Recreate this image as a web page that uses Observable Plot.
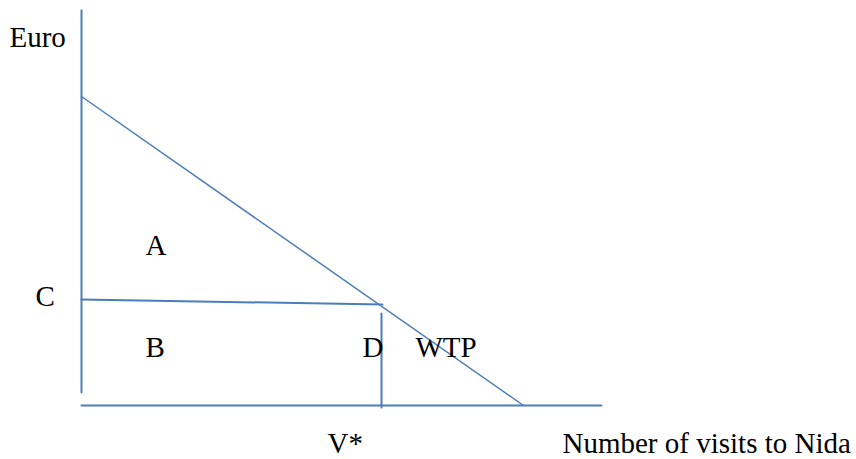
<!DOCTYPE html>
<html>
<head>
<meta charset="utf-8">
<script src="https://cdn.jsdelivr.net/npm/d3@7"></script>
<script src="https://cdn.jsdelivr.net/npm/@observablehq/plot@0.6"></script>
<style>
  html, body { margin: 0; padding: 0; background: #fff; }
</style>
</head>
<body>
<div id="chart"></div>
<script>
// Schematic units: quantity (visits) along x, price (Euro) along y; origin at the axes' corner.
const demandQ = [0, 442];          // demand / WTP line: quantity
const demandP = [309, 0];          // demand / WTP line: price
const costQ = [0, 301];            // cost line C: quantity
const costP = [106, 101];          // cost line C: price
const vStar = 300;                 // V*
const vLineP = [92, -2];           // vertical line at V*: price extent
const yAxisP = [395, 13];          // vertical axis extent
const xAxisQ = [0, 520];           // horizontal axis extent

const labelText = ["Euro", "A", "C", "B", "D", "WTP", "V*", "Number of visits to Nida"];
const labelQ    = [-72, 64, -46, 64, 281, 334, 246, 481];
const labelP    = [359, 151, 99.5, 48.5, 49, 49, -47.5, -47.5];

const blue = "#4a7ebb";
const pts = (qs, ps) => qs.map((q, i) => ({q, p: ps[i]}));
const labels = labelText.map((t, i) => ({t, q: labelQ[i], p: labelP[i]}));

const chart = Plot.plot({
  width: 856,
  height: 459,
  margin: 0,
  x: {domain: [-81, 775], range: [0, 856], axis: null},
  y: {domain: [-54, 405], range: [459, 0], axis: null},
  style: {background: "#fff"},
  marks: [
    Plot.line(pts([0, 0], yAxisP), {x: "q", y: "p", stroke: blue, strokeWidth: 2}),
    Plot.line(pts(xAxisQ, [0, 0]), {x: "q", y: "p", stroke: blue, strokeWidth: 2}),
    Plot.line(pts(demandQ, demandP), {x: "q", y: "p", stroke: blue, strokeWidth: 1.5}),
    Plot.line(pts(costQ, costP), {x: "q", y: "p", stroke: blue, strokeWidth: 2}),
    Plot.line(pts([vStar, vStar], vLineP), {x: "q", y: "p", stroke: blue, strokeWidth: 2}),
    Plot.text(labels, {
      x: "q", y: "p", text: "t",
      textAnchor: "start", lineAnchor: "bottom",
      fontFamily: "Liberation Serif", fontSize: 29, fill: "#000"
    })
  ]
});
document.getElementById("chart").appendChild(chart);
</script>
</body>
</html>
